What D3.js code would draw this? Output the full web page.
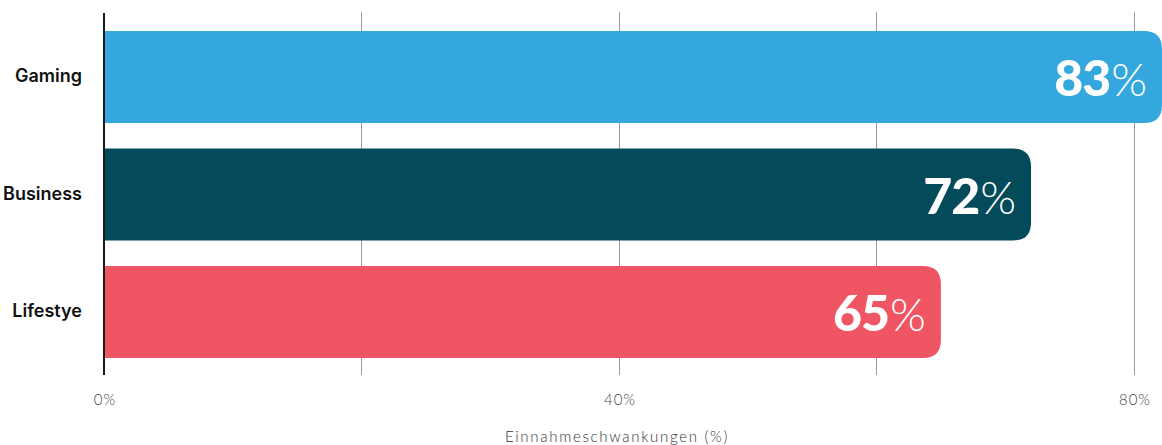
<!DOCTYPE html>
<html>
<head>
<meta charset="utf-8">
<script src="https://cdn.jsdelivr.net/npm/d3@7"></script>
<style>
  html, body { margin: 0; padding: 0; background: #fff; }
  svg { display: block; }
</style>
</head>
<body>
<svg id="chart" width="1162" height="445"></svg>
<script>
const categories = ["Gaming", "Business", "Lifestye"];
const values = [83, 72, 65];
const colors = ["#34A8DE", "#034B5A", "#F05563"];
const tickValues = [0, 20, 40, 60, 80];
const tickLabels = ["0%", "", "40%", "", "80%"];
const axisTitle = "Einnahmeschwankungen (%)";

const W = 1162, H = 445;
const left = 104, plotTop = 12, plotBottom = 377;
const x = d3.scaleLinear().domain([0, 80]).range([left, 1134]);
const y = d3.scaleBand().domain(categories).range([plotTop, plotBottom])
  .paddingInner(0.217).paddingOuter(0.162);

const svg = d3.select("#chart");
const font = "Lato, 'Open Sans', sans-serif";
const labelFont = "Inter, 'Open Sans', sans-serif";

// gridlines
svg.append("g").selectAll("line").data(tickValues.slice(1)).join("line")
  .attr("x1", d => x(d)).attr("x2", d => x(d))
  .attr("y1", plotTop).attr("y2", 375)
  .attr("stroke", "#9a9a9a").attr("stroke-width", 1)
  .attr("shape-rendering", "crispEdges");

// bars with rounded right corners
const r = 18;
function barPath(x0, x1, y0, h) {
  const rr = Math.min(r, (x1 - x0) / 2, h / 2);
  return `M${x0},${y0}H${x1 - rr}Q${x1},${y0} ${x1},${y0 + rr}V${y0 + h - rr}Q${x1},${y0 + h} ${x1 - rr},${y0 + h}H${x0}Z`;
}
const data = categories.map((c, i) => ({ c, v: values[i], color: colors[i] }));
const maxRight = W;
svg.append("g").selectAll("path").data(data).join("path")
  .attr("d", d => barPath(x(0), Math.min(x(d.v), maxRight), y(d.c), y.bandwidth()))
  .attr("fill", d => d.color);

// value labels
const vl = svg.append("g").selectAll("text").data(data).join("text")
  .attr("x", d => Math.min(x(d.v), maxRight) - 15)
  .attr("y", d => y(d.c) + y.bandwidth() / 2 + 19)
  .attr("text-anchor", "end")
  .attr("fill", "#fff")
  .style("font-family", font);
vl.append("tspan").text(d => d.v).attr("font-size", 50).attr("font-weight", 900).attr("letter-spacing", -1);
vl.append("tspan").text("%").attr("font-size", 46).attr("font-weight", 300).attr("dx", 1);

// y axis line
svg.append("line").attr("x1", left).attr("x2", left)
  .attr("y1", plotTop + 1).attr("y2", 375)
  .attr("stroke", "#1a1a1a").attr("stroke-width", 2);

// category labels
svg.append("g").selectAll("text").data(data).join("text")
  .attr("x", 82).attr("y", d => y(d.c) + y.bandwidth() / 2 + 5)
  .attr("text-anchor", "end")
  .attr("font-size", 18).attr("font-weight", 600).attr("fill", "#111")
  .style("font-family", labelFont)
  .text(d => d.c);

// x tick labels
svg.append("g").selectAll("text").data(tickValues.map((v, i) => ({ v, t: tickLabels[i] })).filter(d => d.t))
  .join("text")
  .attr("x", d => x(d.v) + 1).attr("y", 405)
  .attr("text-anchor", "middle")
  .attr("font-size", 15).attr("font-weight", 300).attr("fill", "#444")
  .attr("letter-spacing", 1)
  .style("font-family", font)
  .text(d => d.t);

// axis title
svg.append("text").attr("x", 617).attr("y", 442)
  .attr("text-anchor", "middle")
  .attr("font-size", 15).attr("font-weight", 300).attr("fill", "#333")
  .attr("letter-spacing", 1.7)
  .style("font-family", font)
  .text(axisTitle);
</script>
</body>
</html>
